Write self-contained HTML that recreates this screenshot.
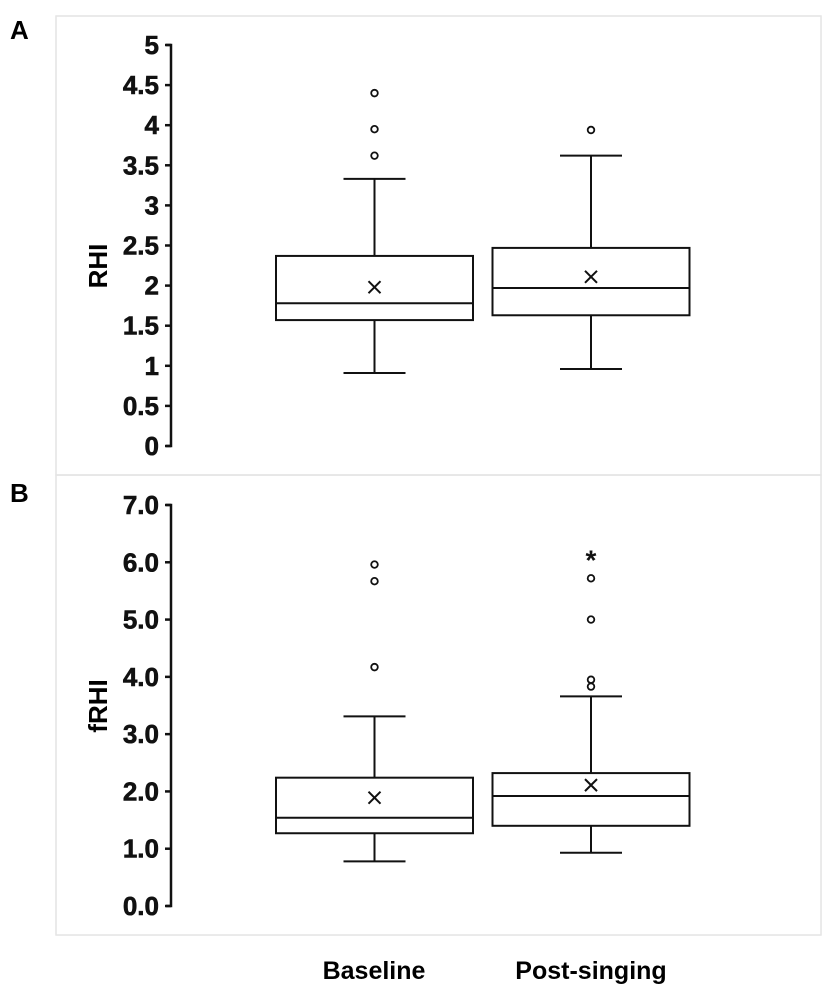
<!DOCTYPE html>
<html><head><meta charset="utf-8"><style>
body{margin:0;background:#fff;}
svg{display:block;font-family:"Liberation Sans",Arial,sans-serif;}
</style></head><body>
<svg id="chart" width="827" height="998" viewBox="0 0 827 998" xmlns="http://www.w3.org/2000/svg">
<rect x="0" y="0" width="827" height="998" fill="#fff"/>
<rect x="56" y="16" width="765" height="459" fill="none" stroke="#e4e4e4" stroke-width="1.5"/>
<rect x="56" y="475" width="765" height="460" fill="none" stroke="#e4e4e4" stroke-width="1.5"/>
<text x="10" y="39" font-size="26" font-weight="bold">A</text>
<text x="10" y="502" font-size="26" font-weight="bold">B</text>
<text transform="translate(107,266) rotate(-90)" text-anchor="middle" font-size="26" font-weight="bold">RHI</text>
<text transform="translate(107,706) rotate(-90)" text-anchor="middle" font-size="26" font-weight="bold">fRHI</text>
<text x="374" y="979" text-anchor="middle" font-size="25" font-weight="bold">Baseline</text>
<text x="591" y="979" text-anchor="middle" font-size="25" font-weight="bold">Post-singing</text>
<g id="plots"></g>
</svg>
<script>
const categories = ["Baseline", "Post-singing"];
// Panel A (RHI): [lowerWhisker, q1, median, q3, upperWhisker]
const rhiStats = [[0.91, 1.57, 1.78, 2.37, 3.33], [0.96, 1.63, 1.97, 2.47, 3.62]];
const rhiMeans = [1.98, 2.11];
const rhiOutliers = [[3.62, 3.95, 4.40], [3.94]];
const rhiTicks = ["0", "0.5", "1", "1.5", "2", "2.5", "3", "3.5", "4", "4.5", "5"];
// Panel B (fRHI)
const frhiStats = [[0.78, 1.27, 1.54, 2.24, 3.31], [0.93, 1.40, 1.92, 2.32, 3.66]];
const frhiMeans = [1.89, 2.11];
const frhiOutliers = [[4.17, 5.67, 5.96], [3.83, 3.95, 5.0, 5.72]];
const frhiExtremes = [[], [6.1]];
const frhiTicks = ["0.0", "1.0", "2.0", "3.0", "4.0", "5.0", "6.0", "7.0"];

const NS = "http://www.w3.org/2000/svg";
const g = document.getElementById("plots");
function mk(tag, attrs, parent) {
  const e = document.createElementNS(NS, tag);
  for (const k in attrs) e.setAttribute(k, attrs[k]);
  (parent || g).appendChild(e);
  return e;
}
function xScale(i) { return [374.5, 591][i]; }
const boxHalf = 98.5, capHalf = 31;

function panel(id, yTop, yBot, vmax, ticks, stats, means, outliers, extremes) {
  const y = v => yBot - (v / vmax) * (yBot - yTop);
  const grp = mk("g", {});
  
  
  const ax = mk("path", { d: `M166 ${y(vmax)} H171 V${y(0)} H166`, fill: "none", stroke: "#111", "stroke-width": 2.5 }, grp);
  
  
  ticks.forEach(t => {
    const v = parseFloat(t);
    const tk = mk("line", { x1: 165, x2: 171, y1: y(v), y2: y(v), stroke: "#111", "stroke-width": 2.5 }, grp);
    
    
    const tl = mk("text", { x: 159, y: y(v) + 9, "text-anchor": "end", "font-size": 26, "font-weight": "bold", fill: "#111", stroke: "#111", "stroke-width": 0.6 }, grp);
    tl.textContent = t;
    
    
  });
  stats.forEach((s, i) => {
    const cx = xScale(i);
    const bg = mk("g", { stroke: "#111", "stroke-width": 2, fill: "none" }, grp);
    
    
    mk("line", { x1: cx, x2: cx, y1: y(s[0]), y2: y(s[1]) }, bg);
    mk("line", { x1: cx, x2: cx, y1: y(s[3]), y2: y(s[4]) }, bg);
    mk("line", { x1: cx - capHalf, x2: cx + capHalf, y1: y(s[0]), y2: y(s[0]) }, bg);
    mk("line", { x1: cx - capHalf, x2: cx + capHalf, y1: y(s[4]), y2: y(s[4]) }, bg);
    mk("rect", { x: cx - boxHalf, y: y(s[3]), width: boxHalf * 2, height: y(s[1]) - y(s[3]) }, bg);
    mk("line", { x1: cx - boxHalf, x2: cx + boxHalf, y1: y(s[2]), y2: y(s[2]) }, bg);
    const my = y(means[i]);
    const mm = mk("path", { d: `M${cx-6} ${my-6} L${cx+6} ${my+6} M${cx+6} ${my-6} L${cx-6} ${my+6}`, stroke: "#111", "stroke-width": 2, fill: "none" }, grp);
    
    
    outliers[i].forEach(o => {
      const c = mk("circle", { cx: cx, cy: y(o), r: 3.3, fill: "#fff", stroke: "#111", "stroke-width": 1.8 }, grp);
      
      
    });
    (extremes ? extremes[i] : []).forEach(o => {
      const t = mk("text", { x: cx, y: y(o) + 13, "text-anchor": "middle", "font-size": 28, "font-weight": "bold", fill: "#111" }, grp);
      t.textContent = "*";
      
      
    });
  });
}
panel("rhi", 45, 446, 5, rhiTicks, rhiStats, rhiMeans, rhiOutliers, null);
panel("frhi", 505, 906, 7, frhiTicks, frhiStats, frhiMeans, frhiOutliers, frhiExtremes);
</script>
</body></html>
